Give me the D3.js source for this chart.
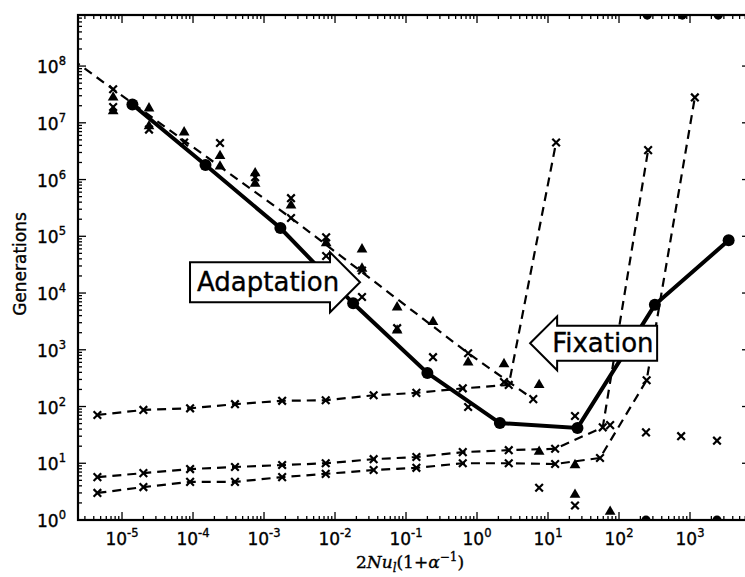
<!DOCTYPE html>
<html>
<head>
<meta charset="utf-8">
<script src="https://cdn.jsdelivr.net/npm/d3@7"></script>
<style>
  body { margin: 0; background: #fff; }
  text { font-family: "DejaVu Sans", sans-serif; fill: #000; stroke: #000; stroke-width: 0.35px; }
</style>
</head>
<body>
<div id="chart"></div>
<script>
// solid line with circles
var solidX = [1.4e-5, 1.5e-4, 1.7e-3, 1.8e-2, 0.2, 2.1, 26, 320, 3500];
var solidY = [2.1e7, 1.8e6, 1.4e5, 6.6e3, 390, 51, 42, 6.2e3, 8.5e4];

// upper dashed line (adaptation)
var adaptX = [2.0e-6, 7.5e-6, 2.4e-3, 0.75, 6.2];
var adaptY = [1.3e8, 3.9e7, 2.1e5, 870, 135];

// three flat dashed lines that turn up at the end
var flatX = [4.5e-6, 2.0e-5, 9.1e-5, 3.9e-4, 1.8e-3, 7.4e-3, 3.5e-2, 0.14, 0.63, 2.8, 12.6];
var lineBX = flatX.slice(0, 10).concat([13]);
var lineBY = [71, 87, 93, 110, 126, 129, 158, 174, 209, 240, 4.5e6];
var lineCX = flatX.concat([59, 257]);
var lineCY = [5.7, 6.7, 7.9, 8.6, 9.3, 10, 11.8, 12.9, 15.7, 17, 18, 43, 3.3e6];
var lineDX = flatX.concat([54, 245, 1170]);
var lineDY = [3.0, 3.8, 4.7, 4.7, 5.7, 6.5, 7.6, 8.3, 10, 10, 9.7, 12.4, 290, 2.8e7];

// loose markers
var crossX = [7.5e-6, 2.4e-5, 7.5e-5, 2.4e-4, 7.5e-4, 2.4e-3, 7.5e-3, 7.5e-3, 0.024, 0.024,
              0.075, 0.24, 0.75, 2.4, 7.5, 24, 24, 75, 240, 750, 2400];
var crossY = [1.9e7, 7.6e6, 4.5e6, 4.4e6, 1.1e6, 4.7e5, 9.6e4, 4.5e4, 2.5e4, 8.5e3,
              2.4e3, 740, 98, 270, 3.7, 68, 1.8, 47, 35, 30, 25];
var triX = [7.5e-6, 7.5e-6, 2.4e-5, 2.4e-5, 7.5e-5, 2.4e-4, 2.4e-4, 7.5e-4, 7.5e-4, 2.4e-3,
            7.5e-3, 0.024, 0.024, 0.075, 0.075, 0.24, 0.75, 2.4, 7.5, 7.5, 24, 24, 75];
var triY = [2.8e7, 1.6e7, 1.8e7, 8.7e6, 6.8e6, 2.6e6, 1.7e6, 1.3e6, 8.5e5, 3.5e5,
            7.6e4, 5.9e4, 2.7e4, 5.6e3, 2.2e3, 3.1e3, 600, 560, 240, 16, 9.3, 2.8, 1.4];
var edgeX = [250, 780, 2500, 240, 2400];
var edgeY = [7.9e8, 7.9e8, 7.9e8, 1, 1];

var xExp = [-5, -4, -3, -2, -1, 0, 1, 2, 3];
var yExp = [0, 1, 2, 3, 4, 5, 6, 7, 8];

var W = 745, H = 577;
var pL = 78, pR = 750, pT = 15, pB = 520;

var svg = d3.select("#chart").append("svg")
    .attr("width", W).attr("height", H);

var x = d3.scaleLog().domain([Math.pow(10, -5.62), Math.pow(10, 3.845)]).range([pL, pR]);
var y = d3.scaleLog().domain([1, Math.pow(10, 8.9)]).range([pB, pT]);

svg.append("clipPath").attr("id", "clip")
  .append("rect").attr("x", pL).attr("y", pT)
  .attr("width", pR - pL).attr("height", pB - pT);

var plot = svg.append("g").attr("clip-path", "url(#clip)");

function pts(xs, ys) { return xs.map(function(d, i) { return [d, ys[i]]; }); }
var line = d3.line().x(function(d) { return x(d[0]); }).y(function(d) { return y(d[1]); });

function crossAt(g, data) {
    g.selectAll(null).data(data).enter().append("path")
        .attr("d", "M-3.8,-3.8L3.8,3.8M-3.8,3.8L3.8,-3.8")
        .attr("transform", function(d) { return "translate(" + x(d[0]) + "," + y(d[1]) + ")"; })
        .style("stroke", "#000").style("stroke-width", 2.2).style("fill", "none");
}

// dashed lines
[[adaptX, adaptY], [lineBX, lineBY], [lineCX, lineCY], [lineDX, lineDY]].forEach(function(s, i) {
    var data = pts(s[0], s[1]);
    plot.append("path").datum(data).attr("d", line)
        .style("fill", "none").style("stroke", "#000")
        .style("stroke-width", 2.2).style("stroke-dasharray", "9,6");
    crossAt(plot, i == 0 ? data.slice(1) : data);
});

// loose crosses and triangles
crossAt(plot, pts(crossX, crossY));
plot.selectAll(".tri").data(pts(triX, triY)).enter().append("path")
    .attr("class", "tri")
    .attr("d", d3.symbol(d3.symbolTriangle).size(50))
    .attr("transform", function(d) { return "translate(" + x(d[0]) + "," + y(d[1]) + ")"; })
    .style("fill", "#000");
plot.selectAll(".edge").data(pts(edgeX, edgeY)).enter().append("circle")
    .attr("cx", function(d) { return x(d[0]); })
    .attr("cy", function(d) { return y(d[1]); })
    .attr("r", 4.5).style("fill", "#000");

// solid line with circles
var solid = pts(solidX, solidY);
plot.append("path").datum(solid).attr("d", line)
    .style("fill", "none").style("stroke", "#000").style("stroke-width", 4);
plot.selectAll(".dot").data(solid).enter().append("circle")
    .attr("cx", function(d) { return x(d[0]); })
    .attr("cy", function(d) { return y(d[1]); })
    .attr("r", 6).style("fill", "#000");

// annotation arrows
function arrowBox(tipX, tipY, dir, bodyLen, bodyH, headLen, headH, label, tx) {
    var px = x(tipX), py = y(tipY);
    var b = px - dir * headLen, e = b - dir * bodyLen;
    var p = [[px, py], [b, py - headH], [b, py - bodyH / 2], [e, py - bodyH / 2],
             [e, py + bodyH / 2], [b, py + bodyH / 2], [b, py + headH]];
    svg.append("path").attr("d", "M" + p.join("L") + "Z")
        .style("fill", "#fff").style("stroke", "#000").style("stroke-width", 2);
    svg.append("text").attr("x", px + tx).attr("y", py + 9)
        .style("font-size", "26px").text(label);
}
arrowBox(0.0225, 1.55e4, 1, 140, 40, 30, 30, "Adaptation", -163);
arrowBox(5.6, 1300, -1, 100, 35, 27, 27, "Fixation", 22);

// frame
svg.append("rect").attr("x", pL).attr("y", pT)
    .attr("width", pR - pL).attr("height", pB - pT)
    .style("fill", "none").style("stroke", "#000").style("stroke-width", 2.2);

// ticks (inward on all sides)
var ticks = svg.append("g").style("stroke", "#000").style("stroke-width", 1.3);
var xMinor = [], yMinor = [];
for (var e = -6; e <= 3; e++) for (var m = 2; m <= 9; m++) xMinor.push(m * Math.pow(10, e));
for (var e = 0; e <= 8; e++) for (var m = 2; m <= 9; m++) yMinor.push(m * Math.pow(10, e));
xMinor = xMinor.filter(function(v) { return x(v) > pL && x(v) < pR; });
yMinor = yMinor.filter(function(v) { return y(v) > pT && y(v) < pB; });

function xTick(v, len) {
    ticks.append("line").attr("x1", x(v)).attr("x2", x(v)).attr("y1", pB).attr("y2", pB - len);
    ticks.append("line").attr("x1", x(v)).attr("x2", x(v)).attr("y1", pT).attr("y2", pT + len);
}
function yTick(v, len) {
    ticks.append("line").attr("y1", y(v)).attr("y2", y(v)).attr("x1", pL).attr("x2", pL + len);
    ticks.append("line").attr("y1", y(v)).attr("y2", y(v)).attr("x1", pR).attr("x2", pR - len);
}
xMinor.forEach(function(v) { xTick(v, 4); });
yMinor.forEach(function(v) { yTick(v, 4); });
xExp.forEach(function(k) { xTick(Math.pow(10, k), 8); });
yExp.forEach(function(k) { yTick(Math.pow(10, k), 8); });

// tick labels
xExp.forEach(function(k) {
    var t = svg.append("text").attr("x", x(Math.pow(10, k))).attr("y", pB + 25)
        .attr("text-anchor", "middle").style("font-size", "17px");
    t.append("tspan").text("10");
    t.append("tspan").attr("dy", -8).style("font-size", "11.5px").text(String(k));
});
yExp.forEach(function(k) {
    var t = svg.append("text").attr("x", 66).attr("y", y(Math.pow(10, k)) + 7)
        .attr("text-anchor", "end").style("font-size", "17px");
    t.append("tspan").text("10");
    t.append("tspan").attr("dy", -8).style("font-size", "11.5px").text(String(k));
});

// axis labels
svg.append("text").attr("transform", "translate(26," + 264 + ") rotate(-90)")
    .attr("text-anchor", "middle").style("font-size", "17px").text("Generations");

var xl = svg.append("text").attr("x", 410).attr("y", 568).attr("text-anchor", "middle")
    .style("font-family", "'DejaVu Serif', serif").style("font-size", "17px");
xl.append("tspan").text("2");
xl.append("tspan").style("font-style", "italic").text("Nu");
xl.append("tspan").attr("dy", 4).style("font-style", "italic").style("font-size", "12px").text("l");
xl.append("tspan").attr("dy", -4).text("(1+");
xl.append("tspan").style("font-style", "italic").text("α");
xl.append("tspan").attr("dy", -7).style("font-size", "12px").text("−1");
xl.append("tspan").attr("dy", 7).text(")");
</script>
</body>
</html>
